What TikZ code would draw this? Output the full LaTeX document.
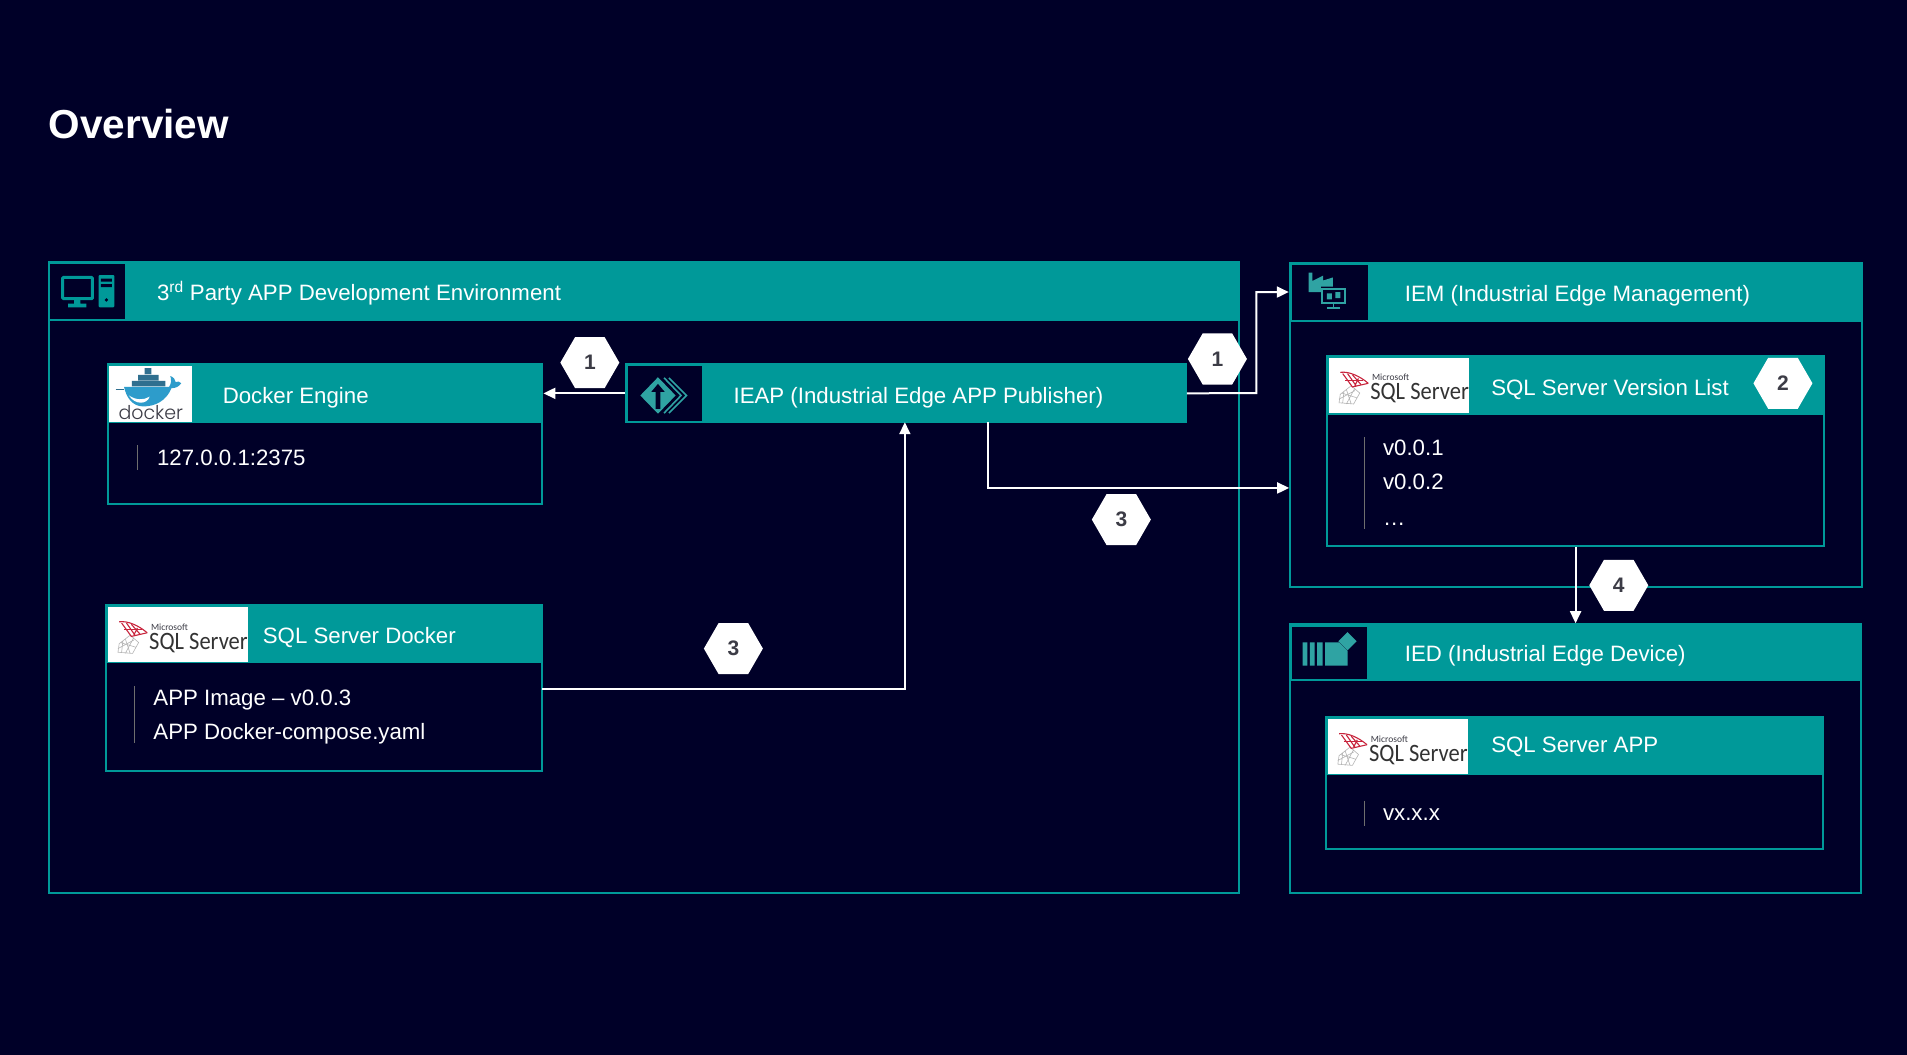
\documentclass[tikz,border=0pt]{standalone}
\usepackage{fontspec}
\setmainfont{Liberation Sans}
\newfontfamily\logofont{Carlito}
\newfontfamily\dockerfont{Poppins Light}
\usetikzlibrary{fit,shapes.geometric,arrows.meta}
\definecolor{bgdark}{HTML}{000028}
\definecolor{teal}{HTML}{009999}
\definecolor{iconteal}{HTML}{2FA3A3}
\definecolor{hexnum}{HTML}{3C3C46}
\definecolor{sepgray}{HTML}{6E6E6E}
\definecolor{sqlred}{HTML}{C8243C}
\definecolor{sqlgray}{HTML}{B4B4B4}
\definecolor{dockblue}{HTML}{2D9CCB}
\definecolor{dockdark}{HTML}{2F6F8F}
\tikzset{
  outline/.style={draw=teal,line width=2pt,inner sep=0pt},
  headbar/.style={draw=teal,fill=teal,line width=2pt,inner sep=0pt},
  iconbox/.style={fill=bgdark,inner sep=0pt},
  logobox/.style={fill=white,inner sep=0pt},
  lbl/.style={text=white,font=\fontsize{22.25}{26}\selectfont,anchor=base west,inner sep=0pt,yshift=-.8pt},
  hexa/.style={regular polygon,regular polygon sides=6,shape border rotate=0,fill=white,
    minimum size=59pt,inner sep=0pt,text=hexnum,font=\fontsize{21}{24}\selectfont\bfseries},
  conn/.style={draw=white,line width=2pt,-{Triangle[length=12pt,width=11pt]}},
  sepline/.style={draw=sepgray,line width=1pt},
  sqlstroke/.style={draw=sqlred,line width=1.1pt},
  sqlnet/.style={draw=sqlgray,line width=.6pt},
}
\newcommand{\panel}[6]{%
  \node (#1) [outline,fit={(#2,#3) (#4,#5)}] {};
  \node (#1head) [headbar,fit={(#2,#3) (#4,#6)}] {};
}
\newcommand{\sqllogo}[3]{%
  \begin{scope}[shift={(#2,#3)}]
    \node (#1) [logobox,fit={(0,0) (115,45)}] {};
    \draw[sqlnet] (18,23) -- (9,30) -- (8,37) -- (20,38) -- (25,29) -- (18,23)
      (14,26) -- (18,38) (10,29) -- (23,33) (8,34) -- (21,27) (21,25) -- (14,38) (11,37) -- (12,28);
    \draw[sqlstroke] (9,12) .. controls (16,11) and (25,15) .. (32,21);
    \draw[sqlstroke] (32,21) -- (19,24) -- (11,13);
    \draw[sqlstroke] (15,13) -- (22,23) (19,14) -- (26,22) (24,17) -- (21,23);
    \draw[sqlstroke] (13,18.5) -- (28,18.5);
    \node (#1ms) [inner sep=0pt,anchor=base west,text=hexnum,font=\logofont\fontsize{9.5}{10}\selectfont] at (35,19) {Microsoft};
    \node (#1sql) [inner sep=0pt,anchor=base west,text=black!80,font=\logofont\fontsize{25}{28}\selectfont] at (33.5,34.5) {\scalebox{.9}[1]{SQL Server}};
  \end{scope}
}
\begin{document}
\begin{tikzpicture}[x=1.21620pt,y=-1.21684pt]
\useasboundingbox (0,0) rectangle (1568,867);
\fill[bgdark] (-3,-3) rectangle (1571,870);

\node (title) [lbl,font=\fontsize{40.5}{44}\selectfont\bfseries] at (40,113) {Overview};

% panels
\panel{main}{40.5}{215.5}{1019}{734}{263}
\panel{docker}{88.5}{299.5}{446}{414}{347}
\panel{ieap}{514.5}{299.5}{975}{347}{347}
\panel{sqld}{87}{497}{446}{634}{544}
\panel{iem}{1060.5}{216}{1531}{482}{264}
\panel{sqll}{1091}{292.5}{1500}{449}{340}
\panel{ied}{1060.5}{513}{1530.5}{734}{559}
\panel{sqla}{1090}{589}{1499}{698}{636}

% icon boxes
\node (mainicon) [iconbox,fit={(41.5,217) (103,262)}] {};
\node (ieapicon) [iconbox,fit={(516,301) (577,346)}] {};
\node (iemicon) [iconbox,fit={(1062,218) (1125,263)}] {};
\node (iedicon) [iconbox,fit={(1062,515) (1124,558)}] {};

% computer icon
\draw[teal,line width=3pt,rounded corners=1pt] (51.5,228) rectangle (76,245.5);
\fill[teal] (61,246) rectangle (66,250) (56,249.5) rectangle (71,252.5);
\fill[teal,rounded corners=1pt] (81,226) rectangle (94,252.5);
\fill[bgdark] (83,229) rectangle (92,231.5) (83,233.5) rectangle (92,236);
\fill[bgdark] (87.5,246.5) circle (1.5);

% factory / management icon
\fill[iconteal] (1076,224) -- (1079,224) -- (1079,231) -- (1088,226.5) -- (1088,230.5) -- (1096,228) -- (1096,235.5) -- (1086,235.5) -- (1086,240) -- (1076,240) -- cycle;
\draw[iconteal,line width=1.5pt] (1087,237.5) rectangle (1106,249);
\fill[iconteal] (1091,241) rectangle (1095,246) (1098,240) rectangle (1102,245);
\draw[iconteal,line width=1.5pt] (1096.5,249) -- (1096.5,252.5) (1091,253) -- (1102,253);

% device icon
\fill[iconteal] (1071,528) rectangle (1075,547) (1077,528) rectangle (1081,547) (1083,528) rectangle (1087.5,547);
\fill[iconteal] (1089.5,528) -- (1101,528) -- (1108,535) -- (1108,547) -- (1089.5,547) -- cycle;
\fill[iconteal] (1108,519.5) -- (1115.5,527) -- (1108,534.5) -- (1100.5,527) -- cycle;

% publisher icon
\draw[iconteal,line width=1.6pt] (546,310.5) -- (560,325) -- (546,339.5);
\draw[iconteal,line width=1.6pt] (550,310.5) -- (564.5,325) -- (550,339.5);
\fill[iconteal] (541,310) -- (555.5,325) -- (541,340) -- (526.5,325) -- cycle;
\fill[bgdark] (541,315.5) -- (546.5,322) -- (543,322) -- (543,336) -- (539,336) -- (539,322) -- (535.5,322) -- cycle;

% docker logo
\begin{scope}[shift={(90,301)}]
  \node (dockerlogo) [logobox,fit={(0,0) (68,46)}] {};
  \fill[dockdark] (29,1.5) rectangle (34.5,6.5) (23.5,7) rectangle (40.5,11.5) (18.5,12) rectangle (46,16.5);
  \fill[dockblue] (12,17) -- (49,17) .. controls (51,14) and (51,11) .. (50,8) .. controls (53,9) and (54,11) .. (54.5,13) .. controls (56,12) and (58,12.5) .. (59,14) .. controls (57,17) and (54,18) .. (51,18) .. controls (47,28) and (38,33) .. (28,33) .. controls (19,33) and (14,26) .. (12,17) -- cycle;
  \fill[white] (16,24) .. controls (22,28) and (28,28) .. (33,25) .. controls (31,31.5) and (21,32) .. (16,24) -- cycle;
  \draw[dockdark,line width=.8pt] (5,19) -- (12,19);
  \node (dockerword) [inner sep=0pt,anchor=base,text=hexnum,font=\dockerfont\fontsize{19}{20}\selectfont] at (34,44) {docker};
\end{scope}

% sql logos
\sqllogo{sqldlogo}{89}{499}
\sqllogo{sqlllogo}{1093}{294}
\sqllogo{sqlalogo}{1092}{591}

% separators
\draw[sepline] (113,366) -- (113,386);
\draw[sepline] (110.5,564) -- (110.5,611);
\draw[sepline] (1122,359) -- (1122,435);
\draw[sepline] (1122,658) -- (1122,679);

% labels
\node (tmain) [lbl] at (129,246) {3\textsuperscript{rd} Party APP Development Environment};
\node (tdocker) [lbl] at (183,331) {Docker Engine};
\node (tip) [lbl] at (129,382) {127.0.0.1:2375};
\node (tieap) [lbl] at (603,331) {IEAP (Industrial Edge APP Publisher)};
\node (tsqld) [lbl] at (216,528) {SQL Server Docker};
\node (timg) [lbl] at (126,579) {APP Image – v0.0.3};
\node (tcomp) [lbl] at (126,607) {APP Docker-compose.yaml};
\node (tiem) [lbl] at (1155,247) {IEM (Industrial Edge Management)};
\node (tsqll) [lbl] at (1226,324) {SQL Server Version List};
\node (tv1) [lbl] at (1137,374) {v0.0.1};
\node (tv2) [lbl] at (1137,402) {v0.0.2};
\node (tv3) [lbl] at (1137,431) {…};
\node (tied) [lbl] at (1155,543) {IED (Industrial Edge Device)};
\node (tsqla) [lbl] at (1226,618) {SQL Server APP};
\node (tvx) [lbl] at (1137,674) {vx.x.x};

% connectors
\coordinate (bendiem) at (1033,323);
\coordinate (ieapout) at (812,347);
\coordinate (iemin) at (1060,401);
\coordinate (sqldout) at (446,566);
\coordinate (ieapin) at (744,347);
\draw[conn] (ieap.west) -- (dockerhead.east);
\draw[conn] (ieap.east) -- (bendiem) |- (iemhead.west);
\draw[conn] (ieapout) |- (iemin);
\draw[conn] (sqldout) -| (ieapin);
\draw[conn] (sqll.south) -- (iedhead.north);

% badges
\node (h1a) [hexa] at (485,298) {1};
\node (h1b) [hexa] at (1001,295) {1};
\node (h3a) [hexa] at (922,427) {3};
\node (h3b) [hexa] at (603,533) {3};
\node (h2) [hexa] at (1466,315) {2};
\node (h4) [hexa] at (1331,481) {4};
\end{tikzpicture}
\end{document}
